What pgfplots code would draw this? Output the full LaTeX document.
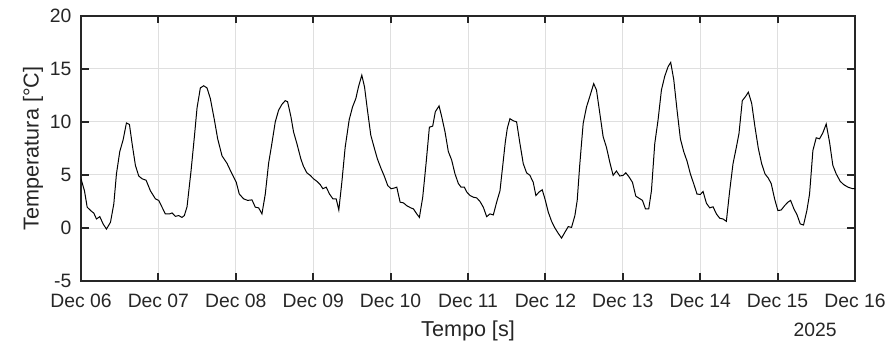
\documentclass[border=0pt]{standalone}
\usepackage{pgfplots}
\pgfplotsset{compat=1.18}
\usepackage{fontspec}
\setmainfont{Liberation Sans}
\definecolor{axc}{rgb}{0.15,0.15,0.15}
\definecolor{gridc}{rgb}{0.875,0.875,0.875}
\begin{document}
\begin{tikzpicture}
\begin{axis}[
  scale only axis,
  width=580.5pt, height=199pt,
  xmin=0, xmax=10, ymin=-5, ymax=20,
  xtick={0,1,2,3,4,5,6,7,8,9,10},
  xticklabels={Dec 06,Dec 07,Dec 08,Dec 09,Dec 10,Dec 11,Dec 12,Dec 13,Dec 14,Dec 15,Dec 16},
  ytick={-5,0,5,10,15,20},
  /pgf/number format/assume math mode=true,
  tick align=inside,
  major tick length=5.8pt,
  xtick pos=both, ytick pos=both,
  axis line style={draw=axc, line width=1.5pt},
  every tick/.style={draw=axc, line width=1.5pt},
  grid=major,
  major grid style={draw=gridc, line width=0.75pt},
  tick label style={font=\fontsize{14.5}{16}\selectfont, text=axc},
  xticklabel style={anchor=base, yshift=-20pt},
  yticklabel style={anchor=east, inner sep=0pt, xshift=-7pt},
  label style={font=\fontsize{16.2}{19}\selectfont, text=axc},
  xlabel={Tempo [s]},
  ylabel={Temperatura [°C]},
  xlabel style={at={(axis description cs:0.5,0)}, anchor=base, yshift=-41.8pt},
  ylabel style={at={(axis description cs:0,0.5)}, anchor=center, rotate=0, yshift=36pt},
]
\addplot[black, line width=0.75pt] coordinates {
(0,4.64)(0.045,3.5)(0.080,1.96)(0.131,1.6)(0.166,1.4)(0.200,0.85)(0.243,1.07)(0.286,0.38)(0.329,-0.1)(0.381,0.54)(0.424,2.27)(0.458,5.1)(0.501,7.2)(0.544,8.3)(0.587,9.9)(0.626,9.75)(0.660,7.96)(0.703,5.9)(0.746,4.9)(0.789,4.64)(0.841,4.5)(0.897,3.5)(0.961,2.75)(1.004,2.6)(1.047,1.96)(1.090,1.33)(1.146,1.33)(1.176,1.42)(1.219,1.1)(1.262,1.17)(1.305,1.0)(1.335,1.17)(1.370,2.0)(1.422,5.4)(1.465,8.6)(1.499,11.3)(1.542,13.2)(1.585,13.4)(1.628,13.2)(1.671,12.2)(1.723,10.2)(1.766,8.4)(1.822,6.8)(1.886,6.1)(1.951,5.1)(2.006,4.3)(2.045,3.2)(2.101,2.75)(2.153,2.6)(2.209,2.65)(2.252,1.96)(2.295,1.9)(2.338,1.33)(2.381,3.2)(2.424,6.1)(2.467,8.0)(2.510,10.0)(2.553,11.1)(2.596,11.65)(2.639,12.0)(2.669,11.9)(2.712,10.5)(2.746,9.06)(2.789,7.96)(2.841,6.5)(2.875,5.8)(2.918,5.2)(2.961,4.96)(3.004,4.64)(3.047,4.4)(3.090,4.1)(3.125,3.7)(3.168,3.85)(3.211,3.2)(3.254,2.75)(3.297,2.75)(3.331,1.7)(3.370,4.3)(3.413,7.6)(3.465,10.2)(3.508,11.4)(3.551,12.2)(3.585,13.3)(3.628,14.4)(3.663,13.3)(3.701,11.1)(3.744,8.75)(3.787,7.6)(3.830,6.5)(3.877,5.6)(3.920,4.86)(3.963,4.0)(4.006,3.7)(4.045,3.76)(4.080,3.85)(4.123,2.43)(4.166,2.37)(4.209,2.1)(4.260,1.9)(4.295,1.8)(4.338,1.33)(4.372,1.0)(4.415,2.9)(4.458,6.06)(4.501,9.5)(4.544,9.6)(4.578,10.96)(4.626,11.5)(4.660,10.5)(4.703,9.06)(4.746,7.2)(4.789,6.4)(4.832,5.1)(4.875,4.2)(4.910,3.85)(4.953,3.85)(4.983,3.4)(5.026,3.06)(5.069,2.9)(5.112,2.84)(5.155,2.5)(5.198,1.96)(5.241,1.07)(5.284,1.33)(5.327,1.23)(5.370,2.43)(5.413,3.5)(5.447,5.75)(5.482,8.1)(5.508,9.4)(5.542,10.3)(5.585,10.1)(5.628,10.0)(5.671,7.96)(5.714,6.06)(5.757,5.2)(5.800,4.96)(5.843,4.3)(5.877,3.06)(5.920,3.4)(5.959,3.6)(5.994,2.75)(6.037,1.5)(6.080,0.63)(6.123,0)(6.166,-0.5)(6.209,-0.95)(6.252,-0.4)(6.295,0.13)(6.338,0.06)(6.381,1.17)(6.411,2.6)(6.445,6.06)(6.488,9.85)(6.531,11.4)(6.574,12.4)(6.624,13.6)(6.660,13.0)(6.703,10.8)(6.746,8.6)(6.789,7.6)(6.832,6.2)(6.875,4.96)(6.918,5.37)(6.961,4.9)(7.004,4.96)(7.039,5.2)(7.082,4.8)(7.125,4.3)(7.168,3.0)(7.211,2.8)(7.254,2.6)(7.293,1.8)(7.335,1.8)(7.370,3.5)(7.413,7.96)(7.456,10.2)(7.499,13.0)(7.542,14.3)(7.585,15.2)(7.619,15.6)(7.658,14.0)(7.701,11.1)(7.744,8.4)(7.787,7.2)(7.830,6.3)(7.873,5.1)(7.916,4.17)(7.959,3.2)(8.002,3.16)(8.037,3.44)(8.080,2.34)(8.123,1.9)(8.166,2.0)(8.209,1.33)(8.252,0.92)(8.295,0.85)(8.338,0.63)(8.381,3.5)(8.424,6.06)(8.467,7.6)(8.501,8.9)(8.544,12.0)(8.587,12.4)(8.622,12.8)(8.665,11.75)(8.708,9.5)(8.751,7.5)(8.794,6.06)(8.837,5.1)(8.880,4.7)(8.918,4.17)(8.961,2.75)(9.004,1.64)(9.047,1.7)(9.090,2.1)(9.133,2.43)(9.168,2.6)(9.211,1.8)(9.250,1.26)(9.293,0.38)(9.335,0.28)(9.378,1.64)(9.413,3.2)(9.456,7.3)(9.499,8.5)(9.542,8.4)(9.585,8.97)(9.628,9.8)(9.671,8.1)(9.714,5.9)(9.757,5.1)(9.809,4.4)(9.852,4.1)(9.908,3.85)(9.972,3.7)(10,3.7)
};
\end{axis}
\node[anchor=base east, font=\fontsize{14.5}{16}\selectfont, text=axc, inner sep=0pt]
  at ([xshift=-13.5pt,yshift=-41.8pt]current axis.south east) {2025};
\pgfresetboundingbox
\path ([xshift=-60.75pt,yshift=-46.5pt]current axis.south west) rectangle ([xshift=26.25pt,yshift=11.8pt]current axis.north east);
\end{tikzpicture}
\end{document}
